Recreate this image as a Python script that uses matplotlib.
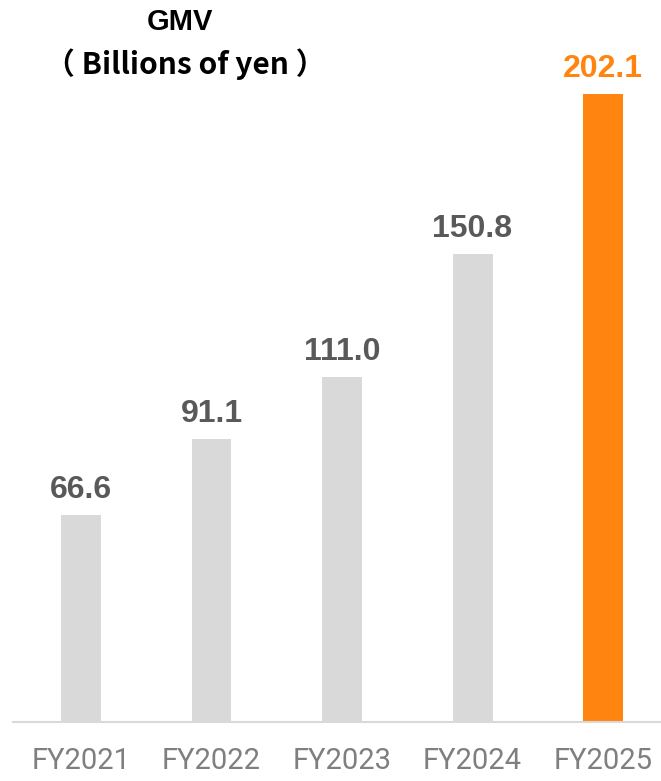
import matplotlib.pyplot as plt

years = ['FY2021', 'FY2022', 'FY2023', 'FY2024', 'FY2025']
gmv = [66.6, 91.1, 111.0, 150.8, 202.1]
colors = ['#d9d9d9', '#d9d9d9', '#d9d9d9', '#d9d9d9', '#ff8410']
label_colors = ['#595959', '#595959', '#595959', '#595959', '#ff8410']

fig = plt.figure(figsize=(6.61, 7.81), dpi=100)
ax = fig.add_axes([13 / 661, 59 / 781, 648 / 661, 722 / 781])

x = range(len(years))
ax.bar(x, gmv, width=0.306, color=colors, zorder=2)
ax.set_xlim(-0.521, 4.444)
ax.set_ylim(0, 232.4)

for i, v in enumerate(gmv):
    ax.annotate(f'{v:.1f}', (i, v), xytext=(0, 7), textcoords='offset points',
                ha='center', va='bottom', fontsize=23, fontweight='bold',
                color=label_colors[i], family=['Liberation Sans', 'DejaVu Sans'])

for s in ['top', 'right', 'left']:
    ax.spines[s].set_visible(False)
ax.spines['bottom'].set_color('#d9d9d9')
ax.spines['bottom'].set_linewidth(1.5)
ax.set_yticks([])
ax.set_xticks(list(x))
ax.set_xticklabels(years, fontsize=21, color='#7f7f7f',
                   family=['Roboto', 'Liberation Sans', 'DejaVu Sans'])
ax.tick_params(axis='x', length=0, pad=18)

fig.text(180 / 661, 1 - 22 / 781, 'GMV', ha='center', va='center',
         fontsize=21, fontweight='bold', color='black',
         family=['Liberation Sans', 'DejaVu Sans'])
fig.text(185 / 661, 1 - 64 / 781, '（ Billions of yen ）', ha='center', va='center',
         fontsize=21.5, fontweight='bold', color='black',
         family=['Noto Sans CJK JP', 'DejaVu Sans'])

fig.savefig('out.png', dpi=100)
